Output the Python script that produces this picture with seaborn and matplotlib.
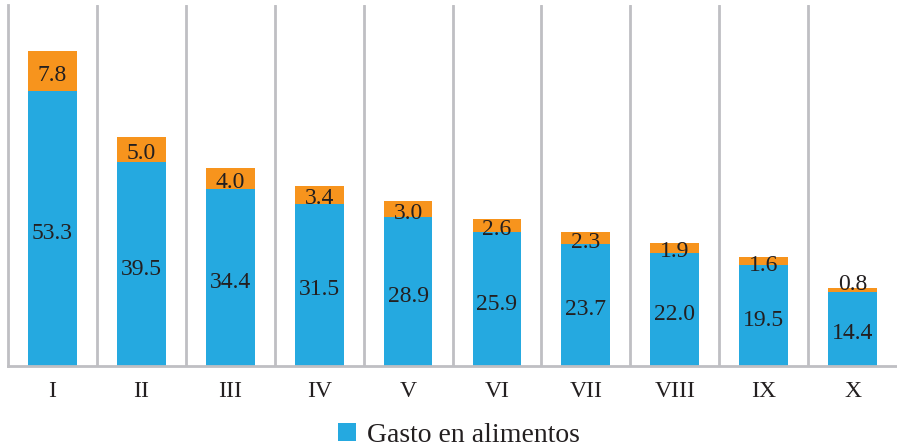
import matplotlib
matplotlib.use("Agg")
import matplotlib.pyplot as plt
import seaborn as sns
import pandas as pd
import numpy as np
from matplotlib.patches import Patch

categories = ["I", "II", "III", "IV", "V", "VI", "VII", "VIII", "IX", "X"]
alimentos = [53.3, 39.5, 34.4, 31.5, 28.9, 25.9, 23.7, 22.0, 19.5, 14.4]
otros = [7.8, 5.0, 4.0, 3.4, 3.0, 2.6, 2.3, 1.9, 1.6, 0.8]

BLUE = "#25A9E0"
ORANGE = "#F7941D"
GRID = "#BFBFC3"
TXT = "#231F20"

sns.set_theme(style="white")
plt.rcParams["font.family"] = ["Liberation Serif", "DejaVu Serif"]

df = pd.DataFrame({"cat": categories, "alimentos": alimentos, "otros": otros})
df["total"] = df["alimentos"] + df["otros"]

fig = plt.figure(figsize=(8.97, 4.48), dpi=100)
ax = fig.add_axes([8 / 897, (448 - 366) / 448, 889 / 897, 361 / 448])

sns.barplot(data=df, x="cat", y="total", color=ORANGE, saturation=1, width=0.55,
            ax=ax, edgecolor="none")
sns.barplot(data=df, x="cat", y="alimentos", color=BLUE, saturation=1, width=0.55,
            ax=ax, edgecolor="none")

ax.set_ylim(0, 70)
ax.set_xlim(-0.5, len(categories) - 0.5)
ax.set_xlabel("")
ax.set_ylabel("")
ax.set_yticks([])

for i, (a, o) in enumerate(zip(alimentos, otros)):
    ax.annotate(f"{a:.1f}", (i, a / 2), xytext=(0, -3.5), textcoords="offset points",
                ha="center", va="center", fontsize=17, color=TXT)
    dy = 4 if o < 1 else -3
    ax.annotate(f"{o:.1f}", (i, a + o / 2), xytext=(0, dy), textcoords="offset points",
                ha="center", va="center", fontsize=17, color=TXT)

# vertical separators
for b in np.arange(0.5, len(categories) - 0.5, 1):
    ax.axvline(b, color=GRID, lw=2, zorder=0)

for s in ["top", "right"]:
    ax.spines[s].set_visible(False)
ax.spines["left"].set_color(GRID)
ax.spines["left"].set_linewidth(2)
ax.spines["bottom"].set_color(GRID)
ax.spines["bottom"].set_linewidth(2)

ax.tick_params(axis="x", length=0, pad=11, labelsize=17, colors=TXT)

handles = [Patch(facecolor=BLUE, edgecolor="none", label="Gasto en alimentos")]
fig.legend(handles=handles, loc="center", bbox_to_anchor=(459 / 897, (448 - 435) / 448),
           frameon=False, fontsize=20, handlelength=0.62, handleheight=0.62,
           handletextpad=0.4, borderpad=0, labelcolor=TXT)

fig.savefig("out.png", dpi=100)
